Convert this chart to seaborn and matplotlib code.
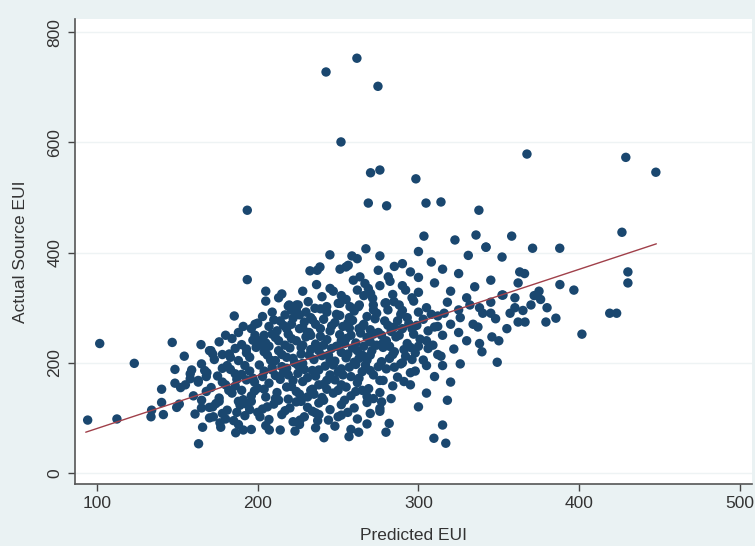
import matplotlib
matplotlib.use("Agg")
import matplotlib.pyplot as plt
import seaborn as sns
import pandas as pd

# ---- data (Predicted EUI, Actual Source EUI) ----
outlier_x = [242.5, 261.7, 274.8, 251.8, 270.2, 276.0, 298.4, 367.5, 429.0, 447.7,
             268.8, 280.2, 304.7, 314.0, 337.6, 193.5, 426.6, 430.3, 430.3, 303.4,
             322.7, 335.8, 358.0, 371.0, 387.9, 342.0]
outlier_y = [728, 753, 702, 601, 545, 550, 534, 579, 573, 546,
             490, 485, 490, 492, 477, 477, 437, 365, 345, 430,
             423, 432, 430, 408, 408, 410]

left_x = [185.4, 101.7, 123.2, 146.8, 164.7, 170.9, 172.0, 154.3, 182.3, 148.5,
          158.9, 158.0, 168.4, 163.0, 148.5, 152.0, 140.2, 140.2, 141.3, 134.0,
          133.6, 151.2, 149.6, 94.2, 112.4, 165.1, 161.0, 165.7, 163.2, 169.9,
          172.4, 176.5, 186.3, 193.5]
left_y = [285, 235, 199, 237, 233, 222, 216, 212, 216, 188,
          187, 171, 182, 165, 163, 155, 152, 128, 106, 114,
          102, 125, 119, 96, 98, 132, 107, 83, 53, 119,
          102, 91, 73, 351]

low_x = [207.2, 223.2, 241.2, 256.8, 262.8, 279.8, 281.8, 277.1, 276.0, 250.0,
         238.1, 237.3, 226.3, 191.0, 201.4, 318.0, 315.0, 309.6, 317.0, 300.0,
         305.0, 295.0, 310.0, 320.0, 298.0, 290.0, 303.0, 315.0, 326.0]
low_y = [78, 76, 64, 66, 74, 74, 90, 129, 117, 102,
         106, 95, 96, 78, 102, 132, 87, 63, 54, 120,
         145, 160, 175, 165, 185, 200, 205, 195, 198]

upper_x = [198.3, 198.3, 219.6, 225.2, 231.4, 262.6, 251.2, 279.8, 284.8,
           232.5, 237.0, 238.7, 251.2, 254.9, 256.3, 275.0, 244.9, 258.6, 261.9,
           276.0, 267.3, 281.2, 282.3, 236.6, 259.5, 263.6, 266.7, 268.8, 270.2,
           271.5, 219.0, 224.2, 235.6, 242.9, 250.1, 257.4, 263.2, 271.9, 279.2,
           290, 296, 305, 312, 318, 325, 330, 338, 345, 352, 300, 292,
           228, 245, 252, 215, 205, 290, 300, 310, 320, 335, 345, 362, 375, 388, 396.7,
           290, 300, 308, 331, 342, 352, 363, 366, 315, 325, 295, 285]
upper_y = [270, 250, 305, 305, 311, 302, 308, 309, 311,
           367, 368, 374, 370, 374, 377, 368, 396, 394, 389,
           394, 407, 356, 348, 342, 350, 356, 344, 335, 326,
           317, 303, 305, 299, 302, 308, 302, 305, 305, 308,
           295, 318, 300, 285, 310, 296, 318, 300, 290, 323, 328, 332,
           330, 335, 322, 325, 330, 340, 355, 345, 330, 338, 350, 345, 330, 342, 332,
           380, 402, 383, 395, 410, 392, 365, 362, 370, 362, 365, 375]

right_x = [349.0, 339.5, 337.0, 345.7, 352.6, 362.0, 366.3, 379.3, 385.5, 401.7,
           419.0, 423.3, 357, 360, 370, 380, 348, 355, 330, 325, 320, 340, 332,
           315, 310, 305, 300, 312, 322, 338, 350, 365, 372, 376, 360, 345, 316, 326, 334]
right_y = [201, 220, 265, 247, 323, 274, 274, 274, 281, 252,
           290, 290, 290, 300, 305, 300, 280, 262, 240, 255, 270, 290, 305,
           250, 265, 240, 230, 215, 225, 235, 240, 295, 322, 315, 318, 310, 290, 282, 270]

core_x = [200, 210, 216, 222, 229, 236, 241, 248, 253, 259, 266, 273, 281, 287, 294, 303, 312, 191,
          188, 196, 204, 212, 219, 226, 232, 239, 245, 251, 257, 264, 270, 277, 283, 290, 297, 306, 180,
          176, 184, 190, 197, 205, 211, 217, 224, 230, 236, 243, 249, 255, 261, 268, 274, 280, 286, 293, 301, 309,
          170, 178, 186, 193, 199, 206, 213, 220, 227, 233, 240, 246, 252, 259, 265, 271, 278, 284, 291, 298, 306, 314,
          165, 173, 181, 188, 195, 201, 208, 215, 222, 228, 235, 242, 248, 255, 261, 268, 275, 282, 289, 296, 305,
          158, 167, 175, 183, 190, 197, 204, 211, 218, 225, 231, 238, 245, 252, 258, 265, 272, 280, 287, 295,
          155, 163, 171, 178, 186, 193, 200, 207, 214, 221, 228, 234, 241, 248, 255, 262, 269, 276, 284, 291,
          160, 168, 176, 184, 191, 198, 205, 212, 219, 226, 233, 240, 247, 254, 261, 268, 276, 283,
          165, 174, 181, 189, 196, 203, 210, 217, 224, 231, 238, 245, 252, 260, 268, 276,
          170, 178, 185, 192, 200, 207, 215, 222, 229, 236, 244, 252, 262, 270,
          177, 188, 196, 205, 214, 226, 236, 248, 258, 268]
core_y = [272, 278, 268, 281, 274, 270, 279, 273, 266, 277, 270, 280, 268, 276, 271, 279, 266, 266,
          255, 262, 250, 258, 252, 262, 255, 248, 258, 251, 263, 254, 260, 250, 257, 262, 252, 258, 250,
          238, 244, 233, 241, 236, 246, 232, 240, 247, 234, 242, 230, 244, 236, 246, 232, 240, 247, 235, 243, 232,
          222, 215, 226, 218, 228, 214, 222, 227, 216, 224, 213, 226, 219, 227, 214, 222, 228, 215, 224, 218, 226, 212,
          198, 206, 195, 204, 210, 196, 205, 193, 208, 199, 206, 194, 203, 209, 197, 205, 193, 208, 198, 206, 195,
          180, 186, 176, 188, 179, 172, 185, 177, 190, 181, 173, 187, 178, 189, 175, 184, 178, 189, 174, 182,
          160, 168, 155, 165, 158, 169, 154, 163, 170, 157, 166, 152, 161, 169, 156, 164, 153, 168, 158, 166,
          140, 148, 136, 145, 133, 149, 138, 146, 134, 143, 150, 137, 145, 132, 148, 139, 146, 135,
          118, 126, 114, 123, 130, 116, 125, 113, 129, 119, 127, 115, 124, 118, 128, 112,
          100, 108, 95, 104, 110, 97, 106, 93, 102, 109, 96, 105, 98, 108,
          83, 88, 79, 86, 78, 88, 82, 85, 79, 89]

extra_x = [213, 218, 223, 228, 234, 239, 244, 249, 254, 260, 265, 270, 226, 243, 257, 231,
           247, 262, 219, 238, 253, 267, 275, 282, 289, 296, 215, 209, 235, 250, 227, 258,
           207, 201, 195, 187, 182, 188, 195, 180, 172, 168]
extra_y = [240, 262, 200, 232, 186, 262, 214, 288, 235, 201, 266, 238, 287, 292, 282, 255,
           196, 222, 178, 160, 178, 196, 255, 230, 288, 262, 215, 187, 143, 150, 130, 140,
           230, 240, 185, 170, 150, 130, 115, 98, 120, 175]

dense_x = [205, 213, 221, 240, 247, 255, 266, 272, 284, 288, 297, 230, 262, 276,
           203, 209, 217, 224, 233, 239, 251, 260, 268, 274, 281, 293, 300, 308,
           207, 214, 221, 228, 234, 246, 256, 263, 279, 285, 299,
           202, 209, 221, 227, 233, 241, 252, 258, 266, 272, 278, 288, 295,
           204, 211, 218, 225, 232, 238, 245, 256, 263, 270, 277, 285, 292,
           203, 209, 216, 222, 229, 236, 243, 250, 257, 263, 270, 278, 285,
           196, 204, 211, 218, 224, 231, 243, 252, 265, 272,
           187, 193, 206, 213, 220, 234, 241, 256,
           178, 183, 186, 192, 180, 176, 190, 198, 193]
dense_y = [312, 318, 296, 320, 330, 315, 322, 296, 324, 305, 312, 292, 332, 340,
           284, 292, 287, 296, 282, 298, 286, 294, 284, 290, 296, 282, 292, 288,
           266, 276, 270, 264, 278, 267, 272, 262, 276, 265, 268,
           232, 252, 244, 228, 250, 232, 240, 250, 230, 252, 236, 250, 228,
           220, 204, 210, 196, 214, 222, 205, 216, 208, 214, 202, 220, 212,
           175, 192, 182, 168, 188, 176, 168, 183, 192, 172, 186, 168, 192,
           140, 152, 135, 156, 148, 138, 152, 160, 150, 135,
           110, 125, 120, 132, 118, 112, 132, 110,
           190, 210, 180, 195, 160, 130, 150, 165, 225]

# fitted line (end points)
fit_x = [93, 448]
fit_y = [74, 416]

pred = outlier_x + left_x + low_x + upper_x + right_x + core_x + extra_x + dense_x
actual = outlier_y + left_y + low_y + upper_y + right_y + core_y + extra_y + dense_y
df = pd.DataFrame({"Predicted EUI": pred, "Actual Source EUI": actual})
fit = pd.DataFrame({"x": fit_x, "y": fit_y})

sns.set_theme(style="white")
plt.rcParams["font.family"] = ["Liberation Sans", "DejaVu Sans"]

bg = "#EAF2F3"
fig = plt.figure(figsize=(7.55, 5.46), dpi=100, facecolor=bg)
ax = fig.add_axes([0.0993, 0.1136, 0.8967, 0.8514])
ax.set_facecolor("white")

sns.scatterplot(data=df, x="Predicted EUI", y="Actual Source EUI", ax=ax,
                color="#1A476F", s=46, edgecolor="none", linewidth=0, zorder=3)
sns.lineplot(data=fit, x="x", y="y", ax=ax, color="#A0404A", linewidth=1.0, zorder=4)

ax.set_xlim(86.3, 507.5)
ax.set_ylim(-20, 824)
ax.set_xticks([100, 200, 300, 400, 500])
ax.set_yticks([0, 200, 400, 600, 800])
for yv in [0, 200, 400, 600, 800]:
    ax.axhline(yv, color="#EEF3F4", linewidth=1.0, zorder=1)

for s in ["top", "right"]:
    ax.spines[s].set_visible(False)
for s in ["left", "bottom"]:
    ax.spines[s].set_color("#555555")
    ax.spines[s].set_linewidth(1.2)

ax.tick_params(axis="both", direction="out", length=5, width=1, color="#444444",
               labelsize=12.5, labelcolor="#333333", pad=4, left=True, bottom=True)
for lab in ax.get_yticklabels():
    lab.set_rotation(90)
    lab.set_va("center")

ax.set_xlabel("Predicted EUI", fontsize=12.5, color="#333333", labelpad=12)
ax.set_ylabel("Actual Source EUI", fontsize=12.5, color="#333333", labelpad=14)

fig.savefig("out.png", dpi=100, facecolor=bg)
